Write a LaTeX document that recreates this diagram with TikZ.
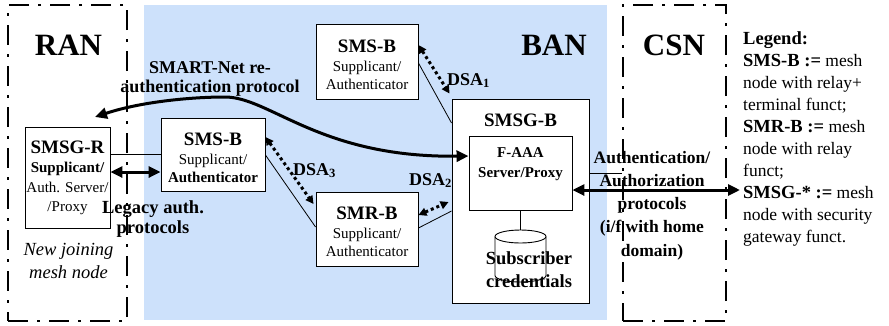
\documentclass[tikz,border=0pt]{standalone}
\usepackage{fontspec}
\setmainfont{Liberation Serif}
\usetikzlibrary{arrows.meta,calc}
\newcommand\myfs[2]{\fontsize{#1}{#2}\selectfont}
\definecolor{bgblue}{RGB}{205,225,251}
\begin{document}
\begin{tikzpicture}[x=1pt,y=-1pt,
  box/.style={draw, fill=white, line width=0.9pt, inner sep=0pt},
  boxtext/.style={font=\myfs{15}{18.5}, align=center, inner sep=0pt},
  thinlink/.style={line width=0.8pt},
  dsa/.style={line width=3pt, dash pattern=on 3pt off 3pt,
    {Triangle[length=8pt,width=8pt]}-{Triangle[length=8pt,width=8pt]}},
  thickarrow/.style={line width=3pt,
    {Triangle[length=12pt,width=11pt]}-{Triangle[length=12pt,width=11pt]}},
  region/.style={draw, line width=2.2pt, dash pattern=on 20pt off 9pt on 3pt off 9pt, inner sep=0pt},
  bigl/.style={font=\myfs{31}{31}\bfseries, inner sep=0pt, anchor=base},
  lbl/.style={font=\myfs{18}{20}\bfseries, align=center, inner sep=0pt},
  dsalbl/.style={font=\myfs{18}{20}\bfseries, inner sep=0pt, anchor=base west},
]
\useasboundingbox (0,0) rectangle (889,325);
\fill[bgblue] (144,5) rectangle (607,320);

% nodes
\node[box, minimum width=85, minimum height=101] (smsgr) at (67.5,177.5) {};
\node[boxtext, font=\myfs{15}{19.5}, yshift=-0.5pt] (smsgrt) at (smsgr)
  {{\myfs{19}{19.5}\bfseries SMSG-R}\\{\bfseries Supplicant/}\\Auth. Server/\\/Proxy};

\node[box, minimum width=104, minimum height=73] (smsb2) at (213,154.5) {};
\node[boxtext, yshift=-3.5pt] (smsb2t) at (smsb2)
  {{\myfs{19}{18.5}\bfseries SMS-B}\\Supplicant/\\{\bfseries Authenticator}};

\node[box, minimum width=102, minimum height=75] (smsb1) at (367,61.5) {};
\node[boxtext, yshift=-3.5pt] (smsb1t) at (smsb1)
  {{\myfs{19}{18.5}\bfseries SMS-B}\\Supplicant/\\Authenticator};

\node[box, minimum width=102, minimum height=74] (smrb) at (367,229) {};
\node[boxtext, yshift=-3pt] (smrbt) at (smrb)
  {{\myfs{19}{18.5}\bfseries SMR-B}\\Supplicant/\\Authenticator};

\node[box, minimum width=137, minimum height=204] (smsgb) at (520.5,201) {};
\node[font=\myfs{19}{19}\bfseries, inner sep=0pt, anchor=base] (smsgbt) at (520.5,126.5) {SMSG-B};

\node[box, minimum width=103, minimum height=74] (faaa) at (520.5,173) {};
\node[boxtext, font=\myfs{15}{20}\bfseries] (faaat) at (520.5,164.5) {F-AAA\\Server/Proxy};

% cylinder
\coordinate (cyltop) at (520.5,230);
\draw[line width=0.9pt, fill=white] (495,236.5) -- (495,275.5)
  arc[start angle=180, end angle=0, x radius=25.5, y radius=6.5] -- (546,236.5);
\draw[line width=0.9pt, fill=white] (520.5,236.5) ellipse [x radius=25.5, y radius=6.5];
\node[font=\myfs{18.5}{23}\bfseries, align=center, inner sep=0pt] (cred) at (529,270) {Subscriber\\credentials};

% regions
\node[region, minimum width=119, minimum height=316] (ran) at (67.5,163) {};
\node[region, minimum width=103, minimum height=316] (csn) at (674.5,163) {};
\coordinate (reauth) at (95,117);
\coordinate (csnend) at (740,190);

% connectors
\draw[thinlink] (smsgr.east |- smsb2.west) -- (smsb2.west);
\draw[thickarrow] ([yshift=5.5pt]smsgr.east) -- ([yshift=-17.5pt]smsb2.west);
\draw[thickarrow] (reauth) .. controls (140,102) and (190,97) .. (225,97)
  .. controls (270,97) and (320,158) .. ([yshift=17pt]faaa.west);
\draw[thinlink] ([yshift=-1.5pt]smsb1.east) -- ([yshift=78pt]smsgb.west);
\draw[dsa] ([yshift=16.5pt]smsb1.east) -- ([shift={(-2pt,5pt)}]smsgb.north west);
\draw[thinlink] ([yshift=-0.5pt]smsb2.east) -- ([yshift=2pt]smrb.west);
\draw[dsa] ([yshift=17.5pt]smsb2.east) -- ([shift={(-2pt,25pt)}]smrb.west);
\draw[thinlink] ([yshift=1pt]smrb.east) -- ([yshift=-10pt]smsgb.west);
\draw[dsa] ([yshift=14pt]smrb.east) -- ([shift={(-3pt,-1pt)}]smsgb.west);
\draw[thickarrow] ([yshift=-17pt]faaa.east) -- (csnend);
\draw[thinlink] ([yshift=28pt]smsgb.east) coordinate (slink) -- (slink -| csn.west);
\draw[thinlink] (faaa.south) -- (faaa.south |- cyltop);

% labels
\node[bigl] (ranl) at (68.5,55) {RAN};
\node[bigl] (banl) at (554,55) {BAN};
\node[bigl] (csnl) at (674,55) {CSN};
\node[lbl, font=\myfs{18}{19}\bfseries] (smartl) at (210,79) {SMART-Net re-\\authentication protocol};
\node[lbl, font=\myfs{18.5}{20}\bfseries] (legacyl) at (153,219) {Legacy auth.\\protocols};
\node[lbl, font=\myfs{18.5}{22.5}\itshape] (newl) at (68.5,261) {New joining\\mesh node};
\node[lbl, font=\myfs{17.5}{23.2}\bfseries] (authl) at (652,205.5)
  {Authentication/\\Authorization\\protocols\\(i/f with home\\domain)};
\node[dsalbl] (dsa1l) at (447,85) {DSA\textsubscript{1}};
\node[dsalbl] (dsa3l) at (293,175) {DSA\textsubscript{3}};
\node[dsalbl] (dsa2l) at (409,185) {DSA\textsubscript{2}};
\node[font=\myfs{17.5}{22.1}, align=left, inner sep=0pt, anchor=base west] (legend) at (743,242.9)
  {{\myfs{18.5}{22.1}\bfseries Legend:}\\
   {\myfs{18.5}{22.1}\bfseries SMS-B :=} mesh\\
   node with relay+\\
   terminal funct;\\
   {\myfs{18.5}{22.1}\bfseries SMR-B :=} mesh\\
   node with relay\\
   funct;\\
   {\myfs{18.5}{22.1}\bfseries SMSG-* :=} mesh\\
   node with security\\
   gateway funct.};
\end{tikzpicture}
\end{document}
